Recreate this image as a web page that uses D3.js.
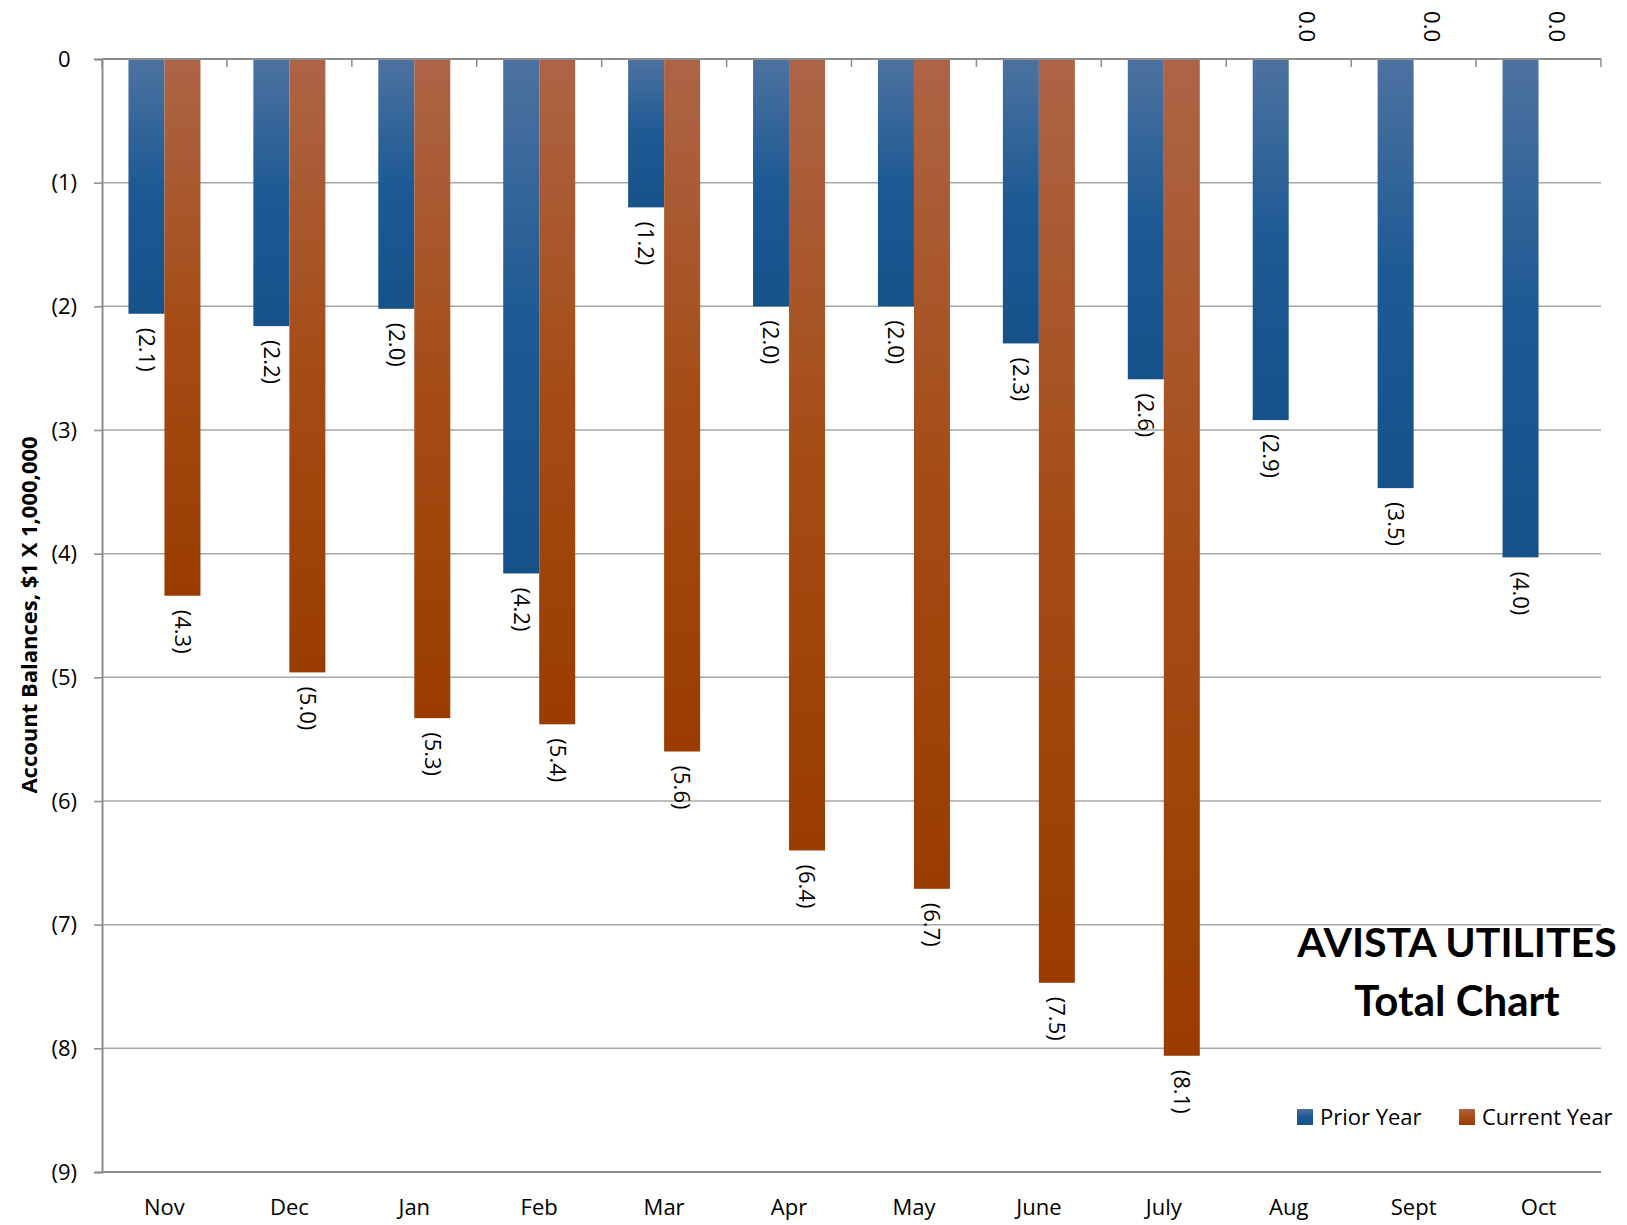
<!DOCTYPE html>
<html><head><meta charset="utf-8">
<script src="https://cdn.jsdelivr.net/npm/d3@7"></script>
<style>body{margin:0;background:#fff}svg{display:block}</style>
</head><body>
<script>
const months = ["Nov","Dec","Jan","Feb","Mar","Apr","May","June","July","Aug","Sept","Oct"];
const priorYear = [-2.06,-2.16,-2.02,-4.16,-1.2,-2.0,-2.0,-2.3,-2.59,-2.92,-3.47,-4.03];
const currentYear = [-4.34,-4.96,-5.33,-5.38,-5.6,-6.4,-6.71,-7.47,-8.06,0,0,0];
const yTicks = [0,-1,-2,-3,-4,-5,-6,-7,-8,-9];
const seriesNames = ["Prior Year","Current Year"];

const W=1627,H=1225;
const L=102,R=1601,T=59,B=1172;
const font="'Open Sans', sans-serif";
const titleFont="Lato, sans-serif";
const svg=d3.select("body").append("svg").attr("width",W).attr("height",H);
const defs=svg.append("defs");
function grad(id,stops){
  const g=defs.append("linearGradient").attr("id",id).attr("x1",0).attr("y1",0).attr("x2",0).attr("y2",1);
  stops.forEach(s=>g.append("stop").attr("offset",s[0]).attr("stop-color",s[1]));
}
grad("gBlue",[[0,"#4d72a0"],[0.5,"#1d5a93"],[1,"#16518a"]]);
grad("gOrange",[[0,"#ad6446"],[0.5,"#a54c15"],[1,"#9a3c00"]]);
const fills=["url(#gBlue)","url(#gOrange)"];

const x=d3.scaleBand().domain(months).range([L,R]).paddingInner(0).paddingOuter(0);
const y=d3.scaleLinear().domain([0,-9]).range([T,B]);
const barW=36;

// gridlines
svg.append("g").selectAll("line").data(yTicks).join("line")
 .attr("x1",L).attr("x2",R).attr("y1",d=>y(d)).attr("y2",d=>y(d))
 .attr("stroke","#a6a6a6").attr("stroke-width",1.5);

// y axis
const yAxis=d3.axisLeft(y).tickValues(yTicks).tickSize(8).tickPadding(17)
 .tickFormat(d=>d===0?"0":"("+Math.abs(d)+")");
const ya=svg.append("g").attr("transform",`translate(${L},0)`).call(yAxis);
ya.select(".domain").attr("stroke","#8c8c8c").attr("stroke-width",2);
ya.selectAll(".tick line").attr("stroke","#8c8c8c").attr("stroke-width",1.5);
ya.selectAll("text").attr("font-family",font).attr("font-size",22).attr("fill","#000");
ya.selectAll(".tick").filter(d=>d===0).select("text").append("tspan").attr("fill-opacity",0).text(")");

// bottom line
svg.append("line").attr("x1",L).attr("x2",R).attr("y1",B).attr("y2",B).attr("stroke","#8c8c8c").attr("stroke-width",2);

// category labels
svg.append("g").selectAll("text").data(months).join("text")
 .attr("x",d=>x(d)+x.bandwidth()/2).attr("y",B+43).attr("text-anchor","middle")
 .attr("font-family",font).attr("font-size",22).text(d=>d);

// bars
const data=months.map((m,i)=>({m,vals:[priorYear[i],currentYear[i]]}));
const g=svg.append("g");
data.forEach(d=>{
  d.vals.forEach((v,s)=>{
    const cx=x(d.m)+x.bandwidth()/2+(s===0?-barW:0);
    if(v<0){
      g.append("rect").attr("x",cx).attr("y",y(0)).attr("width",barW).attr("height",y(v)-y(0)).attr("fill",fills[s]);
    }
    const lbl=v===0?"0.0":"("+Math.abs(v).toFixed(1)+")";
    const lx=cx+barW/2;
    if(v<0){
      const ly=y(v)+14;
      g.append("text").attr("transform",`translate(${lx},${ly}) rotate(90)`)
       .attr("dy","0.35em").attr("font-family",font).attr("font-size",22).text(lbl);
    } else {
      const ly=y(0)-17;
      g.append("text").attr("transform",`translate(${lx},${ly}) rotate(90)`)
       .attr("text-anchor","end").attr("dy","0.35em").attr("font-family",font).attr("font-size",22).text(lbl);
    }
  });
});

// zero line with category ticks
svg.append("line").attr("x1",L).attr("x2",R).attr("y1",T).attr("y2",T).attr("stroke","#8c8c8c").attr("stroke-width",2);
svg.append("g").selectAll("line").data(d3.range(months.length+1)).join("line")
 .attr("x1",i=>L+i*x.bandwidth()).attr("x2",i=>L+i*x.bandwidth())
 .attr("y1",T).attr("y2",T+8).attr("stroke","#8c8c8c").attr("stroke-width",1.5);

// y title
svg.append("text").attr("transform","translate(29,615) rotate(-90)").attr("text-anchor","middle")
 .attr("dy","0.35em").attr("font-family",font).attr("font-weight","bold").attr("font-size",22).text("Account Balances, $1 X 1,000,000");

// chart title
svg.append("text").attr("x",1457).attr("y",957).attr("text-anchor","middle").attr("font-family",titleFont)
 .attr("font-weight","bold").attr("font-size",41).text("AVISTA UTILITES");
svg.append("text").attr("x",1457).attr("y",1016).attr("text-anchor","middle").attr("font-family",titleFont)
 .attr("font-weight","bold").attr("font-size",42).text("Total Chart");

// legend
const lg=svg.append("g");
const lxs=[1297,1459];
seriesNames.forEach((n,i)=>{
  lg.append("rect").attr("x",lxs[i]).attr("y",1109).attr("width",16).attr("height",16).attr("fill",fills[i]);
  lg.append("text").attr("x",lxs[i]+23).attr("y",1125).attr("font-family",font).attr("font-size",22).text(n);
});
</script>
</body></html>
